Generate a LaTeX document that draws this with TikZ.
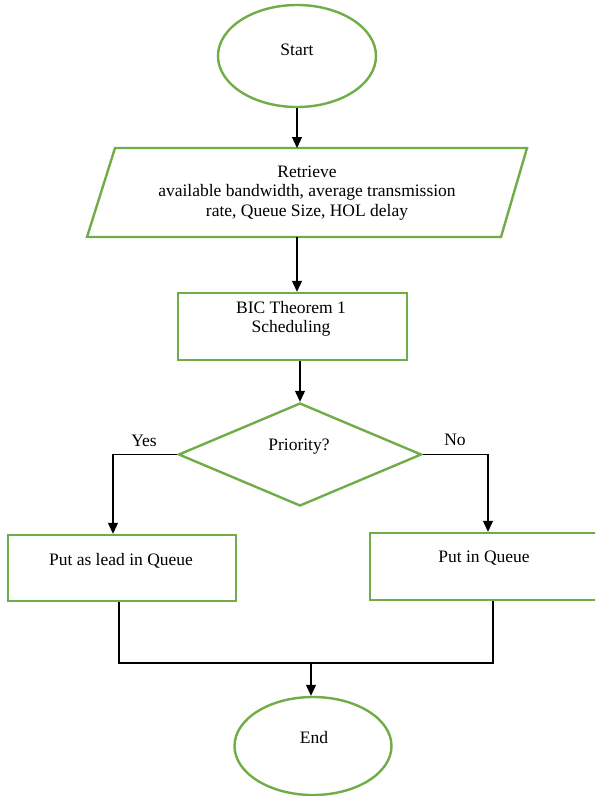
\documentclass[tikz,border=0pt]{standalone}
\usepackage{fontspec}
\setmainfont{Liberation Serif}
\usetikzlibrary{shapes.geometric,arrows.meta}
\definecolor{wgreen}{RGB}{112,173,71}
\begin{document}
\begin{tikzpicture}[x=1pt,y=-1pt,
  shapeline/.style={draw=wgreen, line width=2.4pt},
  txt/.style={font=\fontsize{17.5}{19.3}\selectfont, align=center, inner sep=0pt},
  conn/.style={draw=black, line width=1.2pt},
  arr/.style={conn, -{Triangle[width=10pt,length=11pt]}}]
\useasboundingbox (0,0) rectangle (595,796);
\clip (0,0) rectangle (595,796);
% Start
\node[shapeline, ellipse, minimum width=158pt, minimum height=102pt, inner sep=0pt] (start) at (297,56) {};
\node[txt] (starttxt) at (297,50) {Start};
% Retrieve parallelogram
\coordinate (pA) at (115,148);
\coordinate (pB) at (527,148);
\coordinate (pC) at (501,237);
\coordinate (pD) at (87,237);
\draw[shapeline] (pA) -- (pB) -- (pC) -- (pD) -- cycle;
\node[txt] (retrieve) at (307,193) {Retrieve\\available bandwidth, average transmission\\rate, Queue Size, HOL delay};
\coordinate (retrBot) at (297,237);
% BIC box
\node[shapeline, rectangle, minimum width=229pt, minimum height=67pt, inner sep=0pt] (bic) at (292.5,326.5) {};
\node[txt] (bictxt) at (291,319) {BIC Theorem 1\\Scheduling};
% Diamond
\node[shapeline, diamond, minimum width=243pt, minimum height=103pt, inner sep=0pt] (prio) at (300,454.5) {};
\node[txt] (priotxt) at (299,447) {Priority?};
% Left and right boxes
\node[shapeline, rectangle, minimum width=228pt, minimum height=66pt, inner sep=0pt] (lead) at (122,568) {};
\node[txt] (leadtxt) at (121,561) {Put as lead in Queue};
\node[shapeline, rectangle, minimum width=228pt, minimum height=67pt, inner sep=0pt] (queue) at (484,566.5) {};
\node[txt] (queuetxt) at (484,558) {Put in Queue};
% End
\node[shapeline, ellipse, minimum width=157pt, minimum height=98pt, inner sep=0pt] (endn) at (313,746) {};
\node[txt] (endtxt) at (314,738) {End};
% Labels
\node[txt] (yes) at (144,441) {Yes};
\node[txt] (no) at (455,440) {No};
% Connectors
\draw[arr] (start.south) -- (start.south |- pA);
\draw[arr] (retrBot) -- (retrBot |- bic.north);
\draw[arr] (bic.south -| prio.north) -- (prio.north);
\coordinate (yesx) at (113,454.5);
\coordinate (nox) at (488,454.5);
\draw[arr] (prio.west) -- (yesx) -- (yesx |- lead.north);
\draw[arr] (prio.east) -- (nox) -- (nox |- queue.north);
\coordinate (ml) at (119,663);
\coordinate (mr) at (493,663);
\coordinate (mrg) at (311,663);
\draw[conn] (lead.south -| ml) -- (ml) -- (mr) -- (queue.south -| mr);
\draw[arr] (mrg) -- (mrg |- endn.north);
\end{tikzpicture}
\end{document}
